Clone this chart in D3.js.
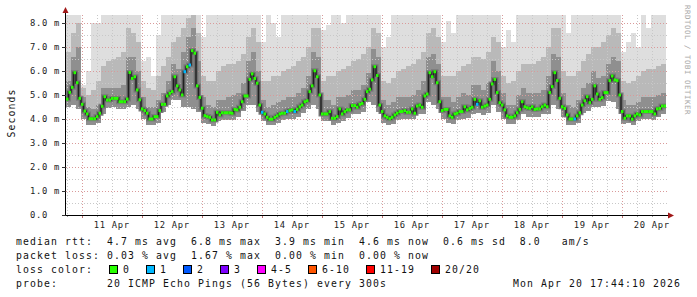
<!DOCTYPE html>
<html>
<head>
<meta charset="utf-8">
<script src="https://cdn.jsdelivr.net/npm/d3@7"></script>
<style>
  html, body { margin: 0; padding: 0; background: #fff; }
  text { font-family: "DejaVu Sans Mono", monospace; white-space: pre; }
</style>
</head>
<body>
<script>
// hourly median rtt in ms, starting Apr 10 17:44 (one row = one day of samples)
const medianRtt = [
  4.83,5.11,5.32,5.93,5.51,4.86,4.61,4.33,4.21,4.01,4.01,4.01,4.10,4.24,4.53,4.93,4.79,4.79,4.86,4.86,4.86,4.72,4.72,4.72,
  4.83,5.94,5.69,5.76,5.21,4.80,4.42,4.35,4.24,4.00,4.00,4.10,4.10,4.35,4.61,4.61,4.96,5.07,5.14,5.76,5.38,5.21,5.00,5.97,
  6.18,6.25,6.85,6.74,5.38,4.90,4.45,4.14,4.10,4.07,3.96,3.96,4.28,4.17,4.26,4.26,4.26,4.26,4.24,4.40,4.38,4.49,4.72,4.96,
  4.96,5.65,5.88,5.69,5.49,4.58,4.28,4.21,4.07,3.99,3.99,4.07,4.13,4.21,4.24,4.24,4.31,4.35,4.38,4.31,4.40,4.51,4.58,4.72,
  4.76,5.14,5.38,6.01,5.76,5.00,4.21,4.21,4.21,4.31,4.03,4.03,4.10,4.42,4.21,4.31,4.38,4.38,4.56,4.56,4.49,4.61,4.65,4.82,
  5.14,5.24,5.63,6.18,5.81,4.58,4.31,4.13,4.07,4.01,4.07,4.17,4.24,4.31,4.31,4.35,4.28,4.28,4.42,4.24,4.54,4.58,4.49,4.96,
  5.04,5.93,5.76,5.97,5.51,4.72,4.35,4.40,4.40,4.13,4.07,4.21,4.24,4.31,4.31,4.51,4.38,4.44,4.49,4.82,4.61,4.76,4.49,4.54,
  4.58,4.82,5.46,5.65,5.10,4.68,4.58,4.38,4.13,4.07,4.07,4.13,4.26,4.40,4.72,4.51,4.47,4.44,4.51,4.40,4.42,4.42,4.51,4.58,
  4.51,5.10,5.35,5.93,5.60,4.86,4.51,4.44,4.17,4.00,4.00,4.00,4.13,4.26,4.58,4.76,4.93,4.68,4.82,5.38,5.04,4.82,4.89,5.10,
  5.10,5.60,5.79,5.63,5.60,5.00,4.31,4.03,4.13,4.13,3.99,4.13,4.21,4.17,4.31,4.31,4.31,4.31,4.31,4.21,4.42,4.44,4.54,4.54
];
// samples where 1 of 20 pings was lost
const lossOnePing = [47, 49, 78, 88, 91, 164, 203];

// smoke, 2 hour columns: bottom, top of dark part, top of mid grey, top of light grey
const smokeMin = [
  4.5,4.6,4.4,4.0,3.75,3.75,3.85,4.2,4.45,4.5,4.4,4.4,
  4.5,4.6,4.4,4.0,3.75,3.75,3.85,4.3,4.6,4.8,4.8,4.5,
  4.5,4.4,4.3,3.85,3.8,3.7,3.9,3.95,3.95,3.95,4.1,4.35,
  4.6,4.6,4.3,3.9,3.75,3.75,3.85,3.95,4.0,4.0,4.1,4.25,
  4.4,4.6,4.4,3.9,3.9,3.75,3.85,3.9,4.05,4.2,4.2,4.3,
  4.7,4.6,4.3,3.85,3.75,3.8,3.95,4.0,4.0,4.0,4.2,4.2,
  4.7,4.6,4.4,4.0,3.85,3.8,3.95,4.0,4.05,4.2,4.25,4.15,
  4.25,4.6,4.3,4.0,3.8,3.8,3.95,4.2,4.1,4.1,4.1,4.2,
  4.2,4.6,4.4,4.1,3.75,3.75,3.85,4.25,4.35,4.5,4.5,4.55,
  4.75,4.7,4.4,3.8,3.85,3.75,3.9,4.0,4.0,3.95,4.1,4.2
];
const smokeDark = [
  5.6,6.6,7.0,4.9,4.5,4.4,4.6,5.3,5.3,5.3,5.3,5.4,
  6.6,6.6,6.0,4.9,4.5,4.5,4.8,5.1,5.6,6.3,6.1,6.8,
  7.4,7.8,6.4,4.9,4.6,4.5,4.8,4.8,4.9,5.0,5.1,5.5,
  6.4,6.8,6.0,4.8,4.5,4.6,4.7,4.8,4.9,4.9,5.1,5.3,
  5.8,6.8,6.6,4.8,4.8,4.6,4.9,4.9,5.0,5.2,5.2,5.4,
  5.9,6.9,6.6,4.8,4.6,4.7,4.9,4.9,4.9,5.0,5.2,5.6,
  6.6,6.7,6.3,4.9,4.9,4.7,4.9,5.1,5.0,5.4,5.4,5.2,
  5.5,6.4,6.0,5.1,4.6,4.6,5.0,5.3,5.1,5.1,5.1,5.2,
  5.8,6.7,6.6,5.1,4.6,4.5,4.8,5.3,5.5,6.0,5.7,5.8,
  6.3,6.6,6.4,4.8,4.6,4.6,4.7,4.9,4.9,4.9,5.0,5.1
];
const smokeMid = [
  6.8,7.6,8.0,5.3,5.0,5.2,5.6,6.2,6.4,6.5,6.6,6.8,
  7.8,7.6,7.2,5.6,5.3,5.2,5.8,6.2,6.6,7.2,7.4,7.8,
  8.2,8.4,7.6,5.8,5.6,5.6,6.0,6.2,6.3,6.3,6.4,6.7,
  7.4,7.8,7.2,5.6,5.6,5.8,5.8,6.0,6.1,6.2,6.4,6.6,
  7.0,7.8,7.8,5.6,5.8,5.8,6.0,6.1,6.2,6.4,6.5,6.7,
  7.0,7.8,7.6,5.6,5.5,5.7,6.0,6.1,6.2,6.3,6.5,6.8,
  7.6,7.8,7.4,5.8,5.8,5.8,6.0,6.2,6.3,6.6,6.6,6.5,
  6.8,7.4,7.2,5.8,5.5,5.6,6.0,6.3,6.3,6.3,6.4,6.6,
  7.0,7.8,7.8,6.0,5.8,5.8,6.0,6.4,6.7,7.0,7.0,7.2,
  7.5,7.8,7.6,5.6,5.5,5.6,5.8,6.0,6.1,6.1,6.2,6.3
];
const smokeMax = [
  8.4,8.4,8.4,5.4,6.0,8.0,8.0,8.4,8.4,8.4,8.4,8.4,
  8.4,8.4,8.4,6.4,6.6,5.8,7.5,8.4,8.4,8.4,8.4,8.4,
  8.4,8.4,8.4,7.4,8.4,8.4,8.4,8.4,8.4,8.4,8.4,8.4,
  8.4,8.4,8.4,7.2,8.4,8.0,7.4,8.4,8.4,8.4,8.4,8.4,
  8.4,8.4,8.4,7.7,7.9,8.4,8.4,8.0,8.4,8.4,8.4,8.4,
  8.4,8.4,8.4,7.0,7.4,8.4,8.4,8.4,8.4,8.4,8.4,8.4,
  8.4,8.4,8.4,7.2,8.1,7.6,8.4,8.4,8.4,8.4,8.4,8.4,
  8.4,8.4,8.4,7.0,7.7,7.2,8.4,8.4,8.4,8.4,8.4,8.4,
  8.4,8.4,8.4,8.4,7.6,8.4,8.4,8.4,8.4,8.4,8.4,8.4,
  8.4,8.4,8.4,6.8,7.2,7.6,7.0,8.4,7.8,8.4,8.4,8.4
];

const yTicks = [0, 1, 2, 3, 4, 5, 6, 7, 8];
const lossLegend = [
  { label: "0", color: "#26ff00" },
  { label: "1", color: "#00b8ff" },
  { label: "2", color: "#0059ff" },
  { label: "3", color: "#7e00ff" },
  { label: "4-5", color: "#ff00ff" },
  { label: "6-10", color: "#ff5500" },
  { label: "11-19", color: "#ff0000" },
  { label: "20/20", color: "#a00000" }
];
const statLines = [
  "median rtt:  4.7 ms avg  6.8 ms max  3.9 ms min  4.6 ms now  0.6 ms sd  8.0   am/s",
  "packet loss: 0.03 % avg  1.67 % max  0.00 % min  0.00 % now",
  "loss color:",
  "probe:       20 ICMP Echo Pings (56 Bytes) every 300s"
];
const stampText = "Mon Apr 20 17:44:10 2026";

// the picture
const W = 697, H = 297;
const plot = { left: 66, right: 666, top: 15, bottom: 215 };
const HOUR = 3600 * 1000;
const t0 = new Date(Date.UTC(2026, 3, 10, 17, 44, 10));
const t1 = new Date(Date.UTC(2026, 3, 20, 17, 44, 10));

const x = d3.scaleUtc().domain([t0, t1]).range([plot.left, plot.right]);
// 24 px per ms, 200 px tall plot
const y = d3.scaleLinear().domain([0, 200 / 24]).range([plot.bottom, plot.top]);

const svg = d3.select("body").append("svg")
  .attr("width", W).attr("height", H)
  .style("display", "block");
svg.append("rect").attr("width", W).attr("height", H).attr("fill", "#fff");

svg.append("defs").append("clipPath").attr("id", "plotclip")
  .append("rect")
  .attr("x", plot.left).attr("y", plot.top)
  .attr("width", plot.right - plot.left).attr("height", plot.bottom - plot.top);

// smoke
const smokeRows = smokeMin.map((lo, c) => ({
  t: new Date(+t0 + c * 2 * HOUR),
  lo: lo, dark: smokeDark[c], mid: smokeMid[c], hi: smokeMax[c]
}));
smokeRows.push(Object.assign({}, smokeRows[smokeRows.length - 1], { t: t1 }));

const smokeG = svg.append("g").attr("clip-path", "url(#plotclip)");
function smokeBand(key, fill) {
  smokeG.append("path").datum(smokeRows)
    .attr("fill", fill)
    .attr("shape-rendering", "crispEdges")
    .attr("d", d3.area().curve(d3.curveStepAfter)
      .x(d => x(d.t)).y0(d => y(d.lo)).y1(d => y(d[key])));
}
smokeBand("hi", "#dedede");
smokeBand("mid", "#b9b9b9");
smokeBand("dark", "#8f8f8f");

// grid on top of the smoke
const gridG = svg.append("g").attr("shape-rendering", "crispEdges");
d3.range(1, 17).forEach(k => {
  const v = k * 0.5;
  const major = k % 2 === 0;
  gridG.append("line")
    .attr("x1", plot.left).attr("x2", plot.right + 2)
    .attr("y1", Math.round(y(v)) + 0.5).attr("y2", Math.round(y(v)) + 0.5)
    .attr("stroke", major ? "#d99a9a" : "#c8c8c8")
    .attr("stroke-dasharray", "1,2");
});
d3.utcHour.every(6).range(t0, t1).forEach(t => {
  const major = t.getUTCHours() === 0;
  const xx = Math.round(x(t)) + 0.5;
  gridG.append("line")
    .attr("x1", xx).attr("x2", xx)
    .attr("y1", plot.top).attr("y2", plot.bottom)
    .attr("stroke", major ? "#d99a9a" : "#c8c8c8")
    .attr("stroke-dasharray", "1,2");
  gridG.append("line")
    .attr("x1", xx).attr("x2", xx)
    .attr("y1", plot.bottom).attr("y2", plot.bottom + (major ? 3 : 2))
    .attr("stroke", major ? "#c07070" : "#999");
});

// median
const medRows = medianRtt.map((v, i) => ({
  t: new Date(+t0 + i * HOUR), v: v,
  loss: lossOnePing.includes(i) ? 1 : 0
}));
const medLineRows = medRows.concat([{ t: t1, v: medRows[medRows.length - 1].v }]);
const medG = svg.append("g").attr("clip-path", "url(#plotclip)");
const medLine = d3.line().curve(d3.curveStepAfter).x(d => x(d.t)).y(d => y(d.v));
[["#7a7a7a", 5], ["#4a4a4a", 2.5], ["#202020", 1]].forEach(([c, w]) => {
  medG.append("path").datum(medLineRows)
    .attr("fill", "none").attr("stroke", c).attr("stroke-width", w)
    .attr("d", medLine);
});
medG.selectAll("rect.med").data(medRows).join("rect")
  .attr("class", "med")
  .attr("x", d => x(d.t))
  .attr("width", d => x(new Date(+d.t + HOUR)) - x(d.t))
  .attr("y", d => y(d.v) - 1.5)
  .attr("height", 3)
  .attr("fill", d => lossLegend[d.loss].color);

// axes
const axG = svg.append("g").attr("shape-rendering", "crispEdges");
axG.append("line").attr("x1", plot.left - 0.5).attr("x2", plot.left - 0.5)
  .attr("y1", plot.bottom + 0.5).attr("y2", 12).attr("stroke", "#000");
axG.append("line").attr("x1", plot.left - 4).attr("x2", plot.right + 3)
  .attr("y1", plot.bottom + 0.5).attr("y2", plot.bottom + 0.5).attr("stroke", "#000");
yTicks.forEach(v => {
  axG.append("line").attr("x1", plot.left - 4).attr("x2", plot.left)
    .attr("y1", Math.round(y(v)) + 0.5).attr("y2", Math.round(y(v)) + 0.5)
    .attr("stroke", "#333");
});
svg.append("path").attr("fill", "#a01818")
  .attr("d", `M${plot.left - 3.5},13 L${plot.left + 2.5},13 L${plot.left - 0.5},7 Z`);
svg.append("path").attr("fill", "#a01818")
  .attr("d", `M${plot.right + 2},${plot.bottom - 2.5} L${plot.right + 2},${plot.bottom + 3.5} L${plot.right + 8},${plot.bottom + 0.5} Z`);

// tick labels
const fmt = d3.format(".1f");
svg.append("g").selectAll("text").data(yTicks).join("text")
  .attr("x", 30).attr("y", d => y(d))
  .attr("dy", "0.36em")
  .attr("font-size", "8.8px").attr("letter-spacing", "0.7px")
  .attr("fill", "#222")
  .text(d => d === 0 ? fmt(d) : fmt(d) + " m");

const noons = d3.utcDay.range(t0, t1).map(d => new Date(+d + 12 * HOUR)).filter(d => d > t0 && d < t1);
svg.append("g").selectAll("text").data(noons).join("text")
  .attr("x", d => x(d)).attr("y", 228)
  .attr("text-anchor", "middle")
  .attr("font-size", "8.8px").attr("letter-spacing", "0.7px")
  .attr("fill", "#222")
  .text(d => d3.utcFormat("%d %b")(d));

svg.append("text")
  .attr("transform", "translate(15,113) rotate(-90)")
  .attr("text-anchor", "middle")
  .attr("font-size", "9.8px").attr("letter-spacing", "1.1px")
  .attr("fill", "#111")
  .text("Seconds");

svg.append("text")
  .attr("transform", "translate(685,5) rotate(90)")
  .attr("font-size", "7.4px").attr("letter-spacing", "0.55px")
  .attr("fill", "#a8a8a8")
  .text("RRDTOOL / TOBI OETIKER");

// legend
const legend = svg.append("g")
  .attr("font-size", "9.8px").attr("letter-spacing", "1.1px").attr("fill", "#111");
statLines.forEach((s, k) => {
  legend.append("text").attr("x", 16).attr("y", 245 + k * 14).text(s);
});
let lx = 108.5;
lossLegend.forEach(item => {
  legend.append("rect")
    .attr("x", lx + 0.5).attr("y", 265.5).attr("width", 8).attr("height", 8)
    .attr("fill", item.color).attr("stroke", "#000").attr("stroke-width", 1)
    .attr("shape-rendering", "crispEdges");
  legend.append("text").attr("x", lx + 14.5).attr("y", 273).text(item.label);
  lx += 30 + item.label.length * 7;
});
legend.append("text")
  .attr("x", 681).attr("y", 287).attr("text-anchor", "end")
  .text(stampText);
</script>
</body>
</html>
